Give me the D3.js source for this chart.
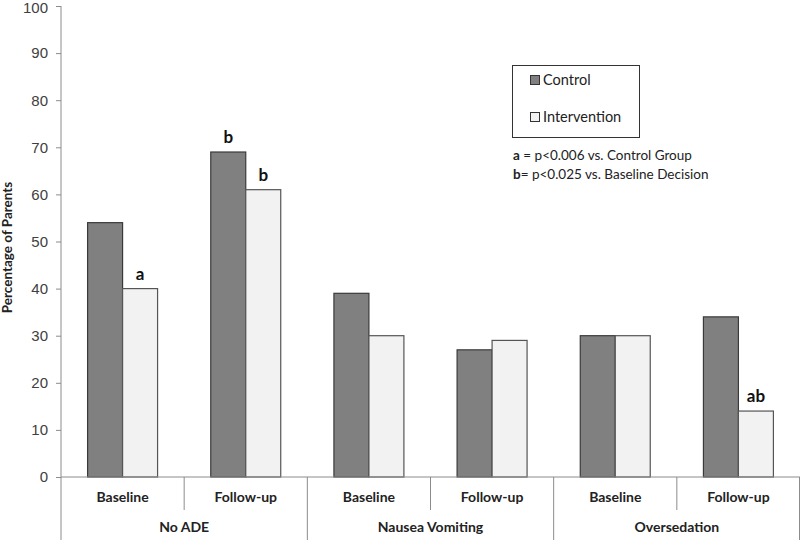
<!DOCTYPE html>
<html><head><meta charset="utf-8">
<script src="https://cdn.jsdelivr.net/npm/d3@7"></script>
<style>body{margin:0;background:#fff}svg{display:block;font-family:Lato,"Open Sans",sans-serif}</style>
</head><body>
<script>
const groups = ["No ADE", "Nausea Vomiting", "Oversedation"];
const phases = ["Baseline", "Follow-up"];
const series = ["Control", "Intervention"];
const control = [54, 69, 39, 27, 30, 34];
const intervention = [40, 61, 30, 29, 30, 14];
const annotControl = ["", "b", "", "", "", ""];
const annotIntervention = ["a", "b", "", "", "", "ab"];
const yTicks = [0, 10, 20, 30, 40, 50, 60, 70, 80, 90, 100];
const notes = [["a", " = p<0.006 vs. Control Group"], ["b", "= p<0.025 vs. Baseline Decision"]];

const W = 800, H = 540;
const m = {left: 61, right: 0, top: 6, bottom: 63};
const svg = d3.select("body").append("svg").attr("width", W).attr("height", H);

const cats = [];
groups.forEach(g => phases.forEach(p => cats.push(g + "|" + p)));
const rows = cats.map((c, i) => ({cat: c, vals: [control[i], intervention[i]], ann: [annotControl[i], annotIntervention[i]]}));

const x0 = d3.scaleBand().domain(cats).range([m.left, W - m.right]).padding(0);
const x1 = d3.scaleBand().domain(series).range([0, x0.bandwidth()]).paddingInner(0).paddingOuter(0.76);
const y = d3.scaleLinear().domain([0, 100]).range([H - m.bottom, m.top]);
const color = d3.scaleOrdinal().domain(series).range(["#808080", "#f2f2f2"]);
const stroke = d3.scaleOrdinal().domain(series).range(["#3a3a3a", "#555555"]);

// y axis
const yAxis = svg.append("g").attr("transform", `translate(${m.left},0)`)
  .call(d3.axisLeft(y).tickValues(yTicks).tickSize(5).tickPadding(8));
yAxis.select(".domain").remove();
yAxis.selectAll("line").attr("stroke", "#8c8c8c");
yAxis.selectAll("text").attr("font-size", 15).attr("fill", "#404040")
  .attr("dy", d => d === 100 ? "0.42em" : "0.32em");
svg.append("line").attr("x1", m.left).attr("x2", m.left).attr("y1", y(100)).attr("y2", H)
  .attr("stroke", "#8c8c8c");

svg.append("text").attr("transform", `translate(12,${(y(0)+y(100))/2+6}) rotate(-90)`)
  .attr("text-anchor", "middle").attr("font-size", 13.5).attr("font-weight", "bold").attr("fill", "#222")
  .text("Percentage of Parents");

// bars
const cg = svg.append("g").selectAll("g").data(rows).join("g")
  .attr("transform", d => `translate(${x0(d.cat)},0)`);
cg.selectAll("rect").data(d => d.vals.map((v, i) => ({s: series[i], v})))
  .join("rect")
  .attr("x", d => x1(d.s)).attr("width", x1.bandwidth())
  .attr("y", d => y(d.v)).attr("height", d => y(0) - y(d.v))
  .attr("fill", d => color(d.s)).attr("stroke", d => stroke(d.s)).attr("stroke-width", 1.2);
cg.selectAll("text.ann").data(d => d.ann.map((a, i) => ({s: series[i], v: d.vals[i], a})))
  .join("text").attr("class", "ann")
  .attr("x", d => x1(d.s) + x1.bandwidth() / 2).attr("y", d => y(d.v) - 9)
  .attr("text-anchor", "middle").attr("font-size", 17).attr("font-weight", "bold").attr("fill", "#111")
  .text(d => d.a);

// x axis baseline
svg.append("line").attr("x1", m.left).attr("x2", W).attr("y1", y(0)).attr("y2", y(0)).attr("stroke", "#8c8c8c");
// dividers
cats.forEach((c, i) => {
  const xx = x0(c);
  const major = i % 2 === 0;
  if (i > 0) svg.append("line").attr("x1", xx).attr("x2", xx).attr("y1", y(0)).attr("y2", major ? H : y(0) + 33)
    .attr("stroke", "#8c8c8c");
});
svg.append("line").attr("x1", W - 0.5).attr("x2", W - 0.5).attr("y1", y(0)).attr("y2", H).attr("stroke", "#8c8c8c");

svg.append("g").selectAll("text").data(cats).join("text")
  .attr("x", d => x0(d) + x0.bandwidth() / 2).attr("y", y(0) + 25)
  .attr("text-anchor", "middle").attr("font-size", 14).attr("font-weight", "bold").attr("fill", "#222")
  .text(d => d.split("|")[1]);
svg.append("g").selectAll("text").data(groups).join("text")
  .attr("x", g => x0(g + "|" + phases[0]) + x0.bandwidth()).attr("y", y(0) + 55)
  .attr("text-anchor", "middle").attr("font-size", 14).attr("font-weight", "bold").attr("fill", "#222")
  .text(g => g);

// legend
const lg = svg.append("g");
lg.append("rect").attr("x", 512.5).attr("y", 65.5).attr("width", 127).attr("height", 72)
  .attr("fill", "#fff").attr("stroke", "#333");
series.forEach((s, i) => {
  const yy = 80 + i * 37;
  lg.append("rect").attr("x", 530.5).attr("y", yy - 4.5).attr("width", 9).attr("height", 9)
    .attr("fill", color(s)).attr("stroke", "#333");
  lg.append("text").attr("x", 543).attr("y", yy + 5).attr("font-size", 14.5).attr("fill", "#222").text(s);
});
notes.forEach((n, i) => {
  const t = svg.append("text").attr("x", 513).attr("y", 160 + i * 19).attr("font-size", 13.5).attr("fill", "#222");
  t.append("tspan").attr("font-weight", "bold").text(n[0]);
  t.append("tspan").text(n[1]);
});
</script>
</body></html>
